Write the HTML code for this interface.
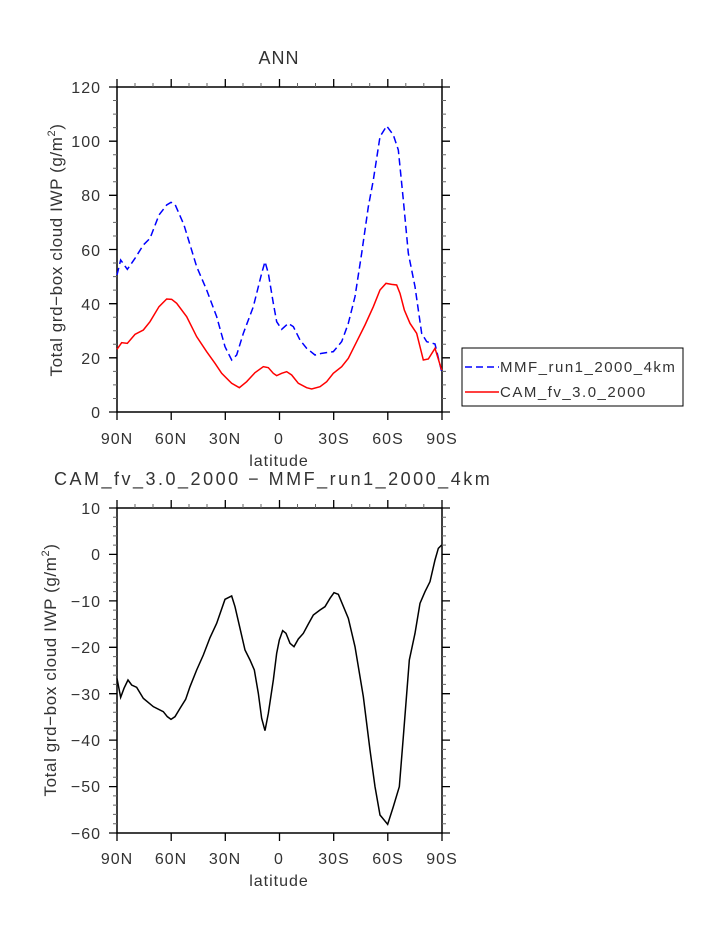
<!DOCTYPE html>
<html><head><style>body{margin:0;background:#fff}svg{display:block}text{font-family:"Liberation Sans",sans-serif;fill:#333}</style></head><body>
<svg width="723" height="935" viewBox="0 0 723 935">
<g font-size="15">
<text x="279" y="64" text-anchor="middle" font-size="18" letter-spacing="1">ANN</text>
<rect x="117" y="87" width="325" height="325" fill="none" stroke="#000" stroke-width="1.5"/>
<g stroke="#000" stroke-width="1.3">
<path d="M117,87v-8M171.2,87v-8M225.3,87v-8M279.5,87v-8M333.7,87v-8M387.8,87v-8M442,87v-8M117,412v8M171.2,412v8M225.3,412v8M279.5,412v8M333.7,412v8M387.8,412v8M442,412v8"/>
</g>
<g stroke="#666" stroke-width="1">
<path d="M135,87v-4M153,87v-4M189,87v-4M207,87v-4M243,87v-4M261,87v-4M297.5,87v-4M315.5,87v-4M351.7,87v-4M369.7,87v-4M405.8,87v-4M423.8,87v-4"/>
</g>
<g stroke="#000" stroke-width="1.3">
<path d="M117,412h-8M117,357.8h-8M117,303.7h-8M117,249.5h-8M117,195.3h-8M117,141.2h-8M117,87h-8M442,412h8M442,357.8h8M442,303.7h8M442,249.5h8M442,195.3h8M442,141.2h8M442,87h8"/>
</g>
<g stroke="#666" stroke-width="1" id="ytm"></g>
<g text-anchor="end" font-size="16" letter-spacing="1">
<text x="101" y="418">0</text><text x="101" y="364">20</text><text x="101" y="310">40</text><text x="101" y="256">60</text><text x="101" y="201">80</text><text x="101" y="147">100</text><text x="101" y="93">120</text>
</g>
<g text-anchor="middle" font-size="16" letter-spacing="1">
<text x="117" y="444">90N</text><text x="171" y="444">60N</text><text x="225" y="444">30N</text><text x="279" y="444">0</text><text x="334" y="444">30S</text><text x="388" y="444">60S</text><text x="442" y="444">90S</text>
<text x="279" y="466">latitude</text>
</g>
<text transform="translate(62,250) rotate(-90)" text-anchor="middle" font-size="17" letter-spacing="0.6">Total grd−box cloud IWP (g/m<tspan font-size="11" dy="-7">2</tspan><tspan dy="7">)</tspan></text>
<g transform="translate(40,40) scale(0.33333)" fill="none">
<polyline stroke="#00f" stroke-width="4.5" stroke-dasharray="22,12" points="231,705 242,660 262,688 285,655 310,615 330,595 357,525 380,495 393,487 405,493 432,555 470,680 500,750 530,830 555,920 575,960 590,945 610,880 640,800 665,700 675,665 685,700 700,790 710,845 725,868 745,850 760,860 780,900 800,925 825,945 845,940 880,935 905,905 925,850 945,770 965,640 985,500 1000,420 1020,290 1040,258 1060,285 1075,330 1090,480 1105,640 1125,740 1145,880 1160,905 1185,912 1205,995"/>
<polyline stroke="#f00" stroke-width="4.5" points="231,928 245,908 262,910 285,883 310,870 330,845 357,800 380,777 395,778 410,790 440,830 470,890 500,935 525,970 545,1000 575,1030 598,1043 620,1025 645,998 670,980 685,983 700,1000 710,1007 725,1000 740,995 755,1005 775,1030 800,1043 815,1047 840,1040 860,1025 880,1000 905,980 925,955 950,905 975,855 1000,800 1020,750 1038,730 1055,733 1070,735 1080,760 1093,810 1110,850 1130,880 1150,960 1165,957 1185,925 1205,990"/>
</g>
<rect x="462" y="348" width="221" height="58" fill="#fff" stroke="#000" stroke-width="1"/>
<line x1="465" y1="367" x2="499" y2="367" stroke="#00f" stroke-width="1.5" stroke-dasharray="7,4"/>
<line x1="465" y1="392" x2="499" y2="392" stroke="#f00" stroke-width="1.5"/>
<text x="500" y="372" font-size="15" letter-spacing="1.5">MMF_run1_2000_4km</text>
<text x="500" y="397" font-size="15" letter-spacing="1.5">CAM_fv_3.0_2000</text>

<text x="54" y="485" font-size="18" letter-spacing="2.5">CAM_fv_3.0_2000 − MMF_run1_2000_4km</text>
<rect x="117" y="508" width="325" height="325" fill="none" stroke="#000" stroke-width="1.5"/>
<g stroke="#000" stroke-width="1.3">
<path d="M117,508v-8M171.2,508v-8M225.3,508v-8M279.5,508v-8M333.7,508v-8M387.8,508v-8M442,508v-8M117,833v8M171.2,833v8M225.3,833v8M279.5,833v8M333.7,833v8M387.8,833v8M442,833v8"/>
<path d="M117,508h-8M117,554.4h-8M117,600.9h-8M117,647.3h-8M117,693.7h-8M117,740.1h-8M117,786.6h-8M117,833h-8M442,508h8M442,554.4h8M442,600.9h8M442,647.3h8M442,693.7h8M442,740.1h8M442,786.6h8M442,833h8"/>
</g>
<g stroke="#666" stroke-width="1">
<path d="M135,508v-4M153,508v-4M189,508v-4M207,508v-4M243,508v-4M261,508v-4M297.5,508v-4M315.5,508v-4M351.7,508v-4M369.7,508v-4M405.8,508v-4M423.8,508v-4"/>
</g>
<g id="ytm2" stroke="#666" stroke-width="1"></g>
<g text-anchor="end" font-size="16" letter-spacing="1">
<text x="101" y="514">10</text><text x="101" y="560">0</text><text x="101" y="607">−10</text><text x="101" y="653">−20</text><text x="101" y="700">−30</text><text x="101" y="746">−40</text><text x="101" y="792">−50</text><text x="101" y="839">−60</text>
</g>
<g text-anchor="middle" font-size="16" letter-spacing="1">
<text x="117" y="864">90N</text><text x="171" y="864">60N</text><text x="225" y="864">30N</text><text x="279" y="864">0</text><text x="334" y="864">30S</text><text x="388" y="864">60S</text><text x="442" y="864">90S</text>
<text x="279" y="886">latitude</text>
</g>
<text transform="translate(56,670) rotate(-90)" text-anchor="middle" font-size="17" letter-spacing="0.6">Total grd−box cloud IWP (g/m<tspan font-size="11" dy="-7">2</tspan><tspan dy="7">)</tspan></text>
<g transform="translate(40,460) scale(0.33333)" fill="none">
<polyline stroke="#000" stroke-width="4.5" points="231,655 242,712 252,685 264,660 275,675 290,682 310,715 340,740 370,755 382,770 393,778 405,770 420,745 437,718 450,680 470,630 490,585 510,533 530,490 555,418 575,408 585,440 600,505 615,570 630,600 643,630 655,700 665,775 675,812 685,760 700,660 710,580 718,540 728,512 738,520 750,550 762,560 775,537 790,520 805,492 820,465 840,450 855,440 870,415 882,398 895,403 900,415 925,475 945,560 970,710 990,870 1005,980 1020,1065 1043,1093 1060,1040 1078,980 1090,830 1108,600 1125,520 1140,430 1155,395 1170,365 1185,300 1195,265 1205,255"/>
</g>
</g>
<script>
(function(){var ns="http://www.w3.org/2000/svg",d="";
for(var v=5;v<120;v+=5){if(v%20==0)continue;var y=412-v*325/120;d+="M117,"+y+"h-4M442,"+y+"h4";}
var p=document.createElementNS(ns,"path");p.setAttribute("d",d);document.getElementById("ytm").appendChild(p);
d="";for(var v=-58;v<10;v+=2){if(v%10==0)continue;var y=833-(v+60)*325/70;d+="M117,"+y+"h-4M442,"+y+"h4";}
p=document.createElementNS(ns,"path");p.setAttribute("d",d);document.getElementById("ytm2").appendChild(p);})();
</script>
</svg>
</body></html>
